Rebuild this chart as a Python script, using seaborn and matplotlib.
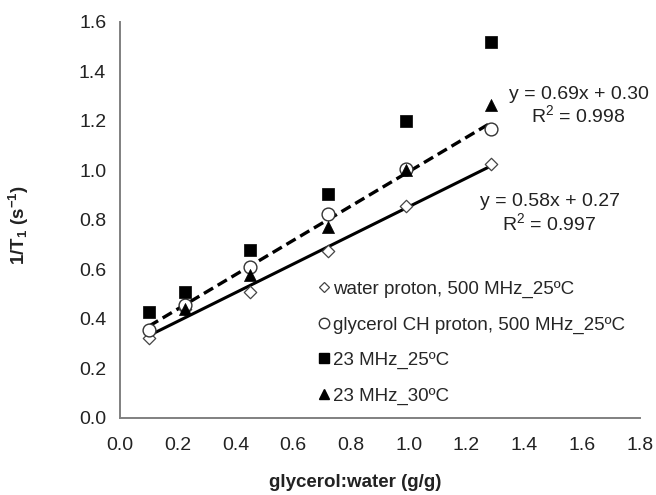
import numpy as np
import pandas as pd
import matplotlib
matplotlib.use("Agg")
import matplotlib.pyplot as plt
import seaborn as sns
from matplotlib.lines import Line2D

sns.set_style("white")
plt.rcParams['font.family'] = ['Liberation Sans', 'DejaVu Sans']
plt.rcParams['mathtext.fontset'] = 'custom'
plt.rcParams['mathtext.rm'] = 'Liberation Sans'
plt.rcParams['mathtext.bf'] = 'Liberation Sans:bold'
plt.rcParams['mathtext.default'] = 'regular'

# Data
x_vals = [0.10, 0.225, 0.45, 0.72, 0.99, 1.285]
water_500 = [0.325, 0.44, 0.51, 0.675, 0.855, 1.025]
glycerol_500 = [0.357, 0.457, 0.612, 0.825, 1.005, 1.168]
mhz23_25 = [0.428, 0.509, 0.68, 0.903, 1.20, 1.52]
x_tri = [0.225, 0.45, 0.72, 0.99, 1.285]
mhz23_30 = [0.44, 0.578, 0.773, 1.0, 1.265]

labels = ["water proton, 500 MHz_25ºC",
          "glycerol CH proton, 500 MHz_25ºC",
          "23 MHz_25ºC",
          "23 MHz_30ºC"]
eq1 = "y = 0.69x + 0.30\nR$^2$ = 0.998"
eq2 = "y = 0.58x + 0.27\nR$^2$ = 0.997"
xticks = [0.0, 0.2, 0.4, 0.6, 0.8, 1.0, 1.2, 1.4, 1.6, 1.8]
yticks = [0.0, 0.2, 0.4, 0.6, 0.8, 1.0, 1.2, 1.4, 1.6]

df = pd.DataFrame({"x": x_vals, "water": water_500, "gly": glycerol_500, "m25": mhz23_25})
dft = pd.DataFrame({"x": x_tri, "m30": mhz23_30})

fig = plt.figure(figsize=(6.56, 4.95), dpi=100)
ax = fig.add_axes([0.183, 0.1556, 0.792, 0.80])

# trend lines
sns.regplot(data=df, x="x", y="water", ax=ax, scatter=False, ci=None, truncate=True,
            line_kws=dict(color="black", lw=2.2, ls="-", zorder=2))
sns.regplot(data=df, x="x", y="gly", ax=ax, scatter=False, ci=None, truncate=True,
            line_kws=dict(color="black", lw=2.4, ls=(0, (3.2, 1.6)), zorder=2))

# markers
sns.scatterplot(data=df, x="x", y="water", ax=ax, marker="D", s=40,
                facecolor="white", edgecolor="#444444", linewidth=0.9, zorder=3)
sns.scatterplot(data=df, x="x", y="gly", ax=ax, marker="o", s=85,
                facecolor="white", edgecolor="#333333", linewidth=1.0, zorder=3)
sns.scatterplot(data=df, x="x", y="m25", ax=ax, marker="s", s=85,
                color="black", edgecolor="black", linewidth=0.5, zorder=3)
sns.scatterplot(data=dft, x="x", y="m30", ax=ax, marker="^", s=75,
                color="black", edgecolor="black", linewidth=0.5, zorder=4)

ax.set_xlim(0.0, 1.8)
ax.set_ylim(0.0, 1.6)
ax.set_xticks(xticks)
ax.set_yticks(yticks)
ax.set_xticklabels([f"{v:.1f}" for v in xticks])
ax.set_yticklabels([f"{v:.1f}" for v in yticks])
ax.tick_params(axis="both", labelsize=14, direction="out", length=5, width=1.2,
               color="#808080", labelcolor="#222222", pad=5)
ax.tick_params(axis="x", pad=9)
for s in ["top", "right"]:
    ax.spines[s].set_visible(False)
for s in ["left", "bottom"]:
    ax.spines[s].set_color("#808080")
    ax.spines[s].set_linewidth(1.4)

ax.set_xlabel("glycerol:water (g/g)", fontsize=13.5, fontweight="bold", color="#222222")
ax.set_ylabel("1/T$_1$ (s$^{-1}$)", fontsize=13.5, fontweight="bold", color="#222222")
ax.xaxis.set_label_coords(0.452, -0.141)
ax.yaxis.set_label_coords(-0.171, 0.487)

ax.text(1.589, 1.26, eq1, ha="center", va="center", fontsize=14, color="#222222",
        linespacing=1.1, clip_on=False)
ax.text(1.488, 0.826, eq2, ha="center", va="center", fontsize=14, color="#222222",
        linespacing=1.1)

handles = [
    Line2D([], [], marker="D", ls="", ms=5.0, mfc="white", mec="#444444", mew=0.9),
    Line2D([], [], marker="o", ls="", ms=7.5, mfc="white", mec="#333333", mew=1.0),
    Line2D([], [], marker="s", ls="", ms=7.0, mfc="black", mec="black"),
    Line2D([], [], marker="^", ls="", ms=7.5, mfc="black", mec="black"),
]
ax.legend(handles, labels, loc="lower left", bbox_to_anchor=(0.367, 0.015), frameon=False,
          fontsize=13.5, handlelength=0.6, handletextpad=0.2, labelspacing=0.97,
          borderaxespad=0)

fig.savefig("out.png", dpi=100)
